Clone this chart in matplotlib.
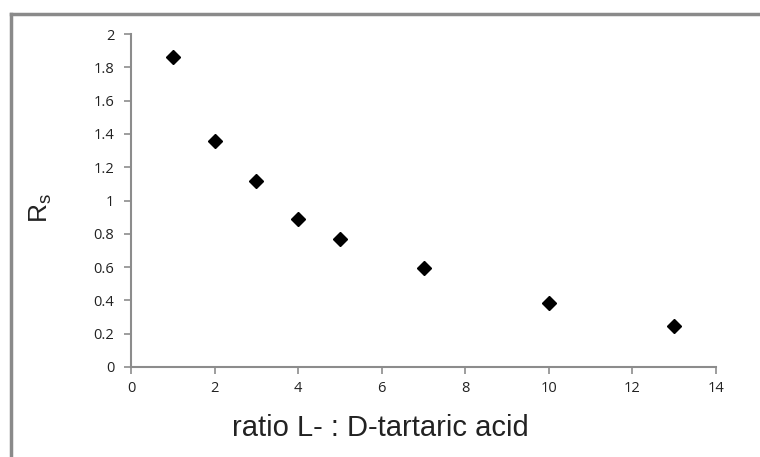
import matplotlib
matplotlib.use("Agg")
import matplotlib.pyplot as plt
from matplotlib.lines import Line2D

ratio = [1, 2, 3, 4, 5, 7, 10, 13]
rs = [1.86, 1.36, 1.12, 0.89, 0.77, 0.595, 0.385, 0.245]
xticks = [0, 2, 4, 6, 8, 10, 12, 14]
yticks = [0, 0.2, 0.4, 0.6, 0.8, 1, 1.2, 1.4, 1.6, 1.8, 2]
ytick_labels = ["0", "0.2", "0.4", "0.6", "0.8", "1", "1.2", "1.4", "1.6", "1.8", "2"]

fig = plt.figure(figsize=(7.6, 4.57), dpi=100)
x0, x1, ytop, ybot = 131, 716, 34, 367
ax = fig.add_axes([x0/760, 1-ybot/457, (x1-x0)/760, (ybot-ytop)/457])

ax.plot(ratio, rs, linestyle="none", marker="D", markersize=7.5, color="black")

ax.set_xlim(0, 14)
ax.set_ylim(0, 2)
ax.set_xticks(xticks)
ax.set_xticklabels([str(t) for t in xticks])
ax.set_yticks(yticks)
ax.set_yticklabels(ytick_labels)

gray = "#8c8c8c"
for s in ["top", "right"]:
    ax.spines[s].set_visible(False)
for s in ["left", "bottom"]:
    ax.spines[s].set_color(gray)
    ax.spines[s].set_linewidth(1.5)
ax.tick_params(axis="both", direction="out", length=5, width=1.2, color=gray,
               labelsize=10.5, labelcolor="#222222")
ax.tick_params(axis="y", pad=7)
ax.tick_params(axis="x", pad=5)
for lab in ax.get_xticklabels() + ax.get_yticklabels():
    lab.set_family("Open Sans")

ax.set_xlabel("ratio L- : D-tartaric acid", family="Liberation Sans", fontsize=21,
              color="#222222", va="center", ha="center")
ax.xaxis.set_label_coords((380-x0)/(x1-x0), (ybot-428)/(ybot-ytop))
ax.set_ylabel(r"R$_\mathregular{s}$", family="Liberation Sans", fontsize=19,
              color="#222222", va="center", ha="center")
ax.yaxis.set_label_coords((41-x0)/(x1-x0), (ybot-208)/(ybot-ytop))

# figure frame (top and left edges visible)
fig.add_artist(Line2D([11/760, 11/760], [0, 1-14/457], transform=fig.transFigure,
                      color="#8a8a8a", linewidth=2.5))
fig.add_artist(Line2D([11/760, 1], [1-14/457, 1-14/457], transform=fig.transFigure,
                      color="#8a8a8a", linewidth=2.5))

fig.savefig("out.png", dpi=100)
